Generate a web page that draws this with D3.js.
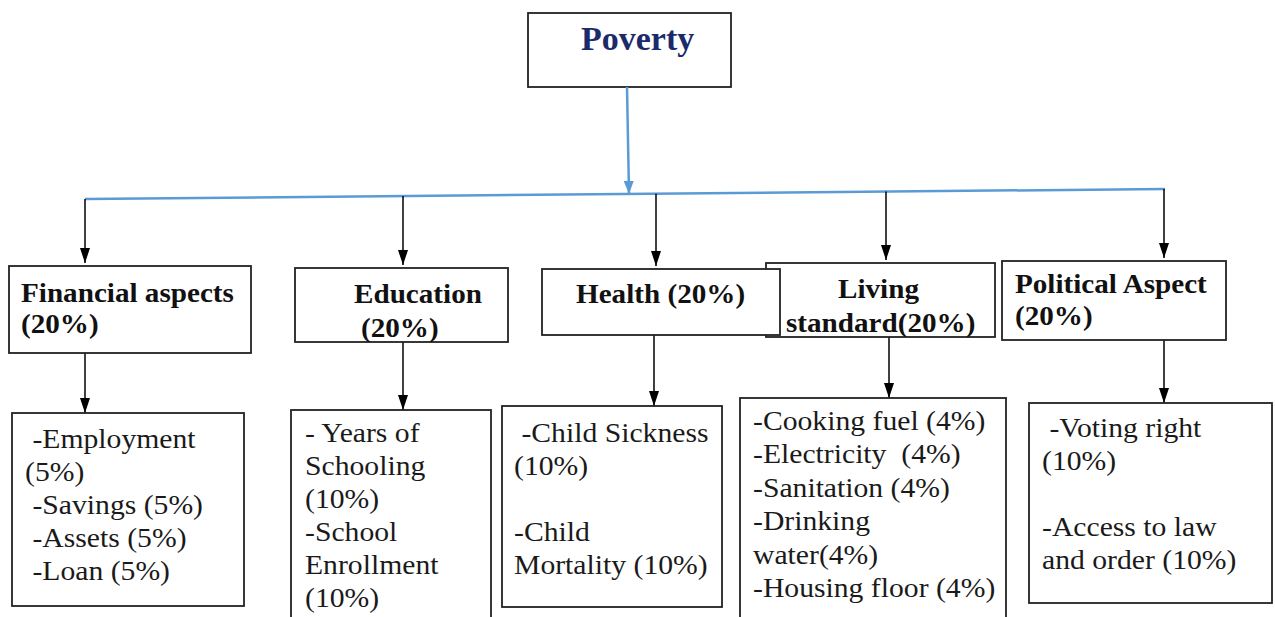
<!DOCTYPE html>
<html>
<head>
<meta charset="utf-8">
<script src="https://cdn.jsdelivr.net/npm/d3@7"></script>
<style>
  html, body { margin: 0; padding: 0; background: #fff; }
  text { white-space: pre; font-family: "Liberation Serif", "Times New Roman", serif; }
</style>
</head>
<body>
<svg id="chart" width="1275" height="617"></svg>
<script>
// ---- data ----
const rootLabel = "Poverty";
const categories = ["Financial aspects", "Education", "Health", "Living standard", "Political Aspect"];
const categoryWeights = [20, 20, 20, 20, 20];

// header text as it is broken into lines in the picture
const categoryLines = [
  ["Financial aspects", "(20%)"],
  ["Education", "(20%)"],
  ["Health (20%)"],
  ["Living", "standard(20%)"],
  ["Political Aspect", "(20%)"]
];

// indicators and their weights
const indicatorNames = [
  ["Employment", "Savings", "Assets", "Loan"],
  ["Years of Schooling", "School Enrollment"],
  ["Child Sickness", "Child Mortality"],
  ["Cooking fuel", "Electricity", "Sanitation", "Drinking water", "Housing floor"],
  ["Voting right", "Access to law and order"]
];
const indicatorWeights = [
  [5, 5, 5, 5],
  [10, 10],
  [10, 10],
  [4, 4, 4, 4, 4],
  [10, 10]
];

// indicator text, line by line ("" = empty line)
const indicatorLines = [
  [" -Employment", "(5%)", " -Savings (5%)", " -Assets (5%)", " -Loan (5%)"],
  ["- Years of", "Schooling", "(10%)", "-School", "Enrollment", "(10%)"],
  [" -Child Sickness", "(10%)", "", "-Child", "Mortality (10%)"],
  ["-Cooking fuel (4%)", "-Electricity  (4%)", "-Sanitation (4%)", "-Drinking", "water(4%)", "-Housing floor (4%)"],
  [" -Voting right", "(10%)", "", "-Access to law", "and order (10%)"]
];

// ---- layout (pixels) ----
const rootBox = { x: 528, y: 13, w: 203, h: 74 };
const busLeft = [85, 199], busRight = [1165, 189];
const branchX = [85, 403, 656, 886, 1164];
const childX = [85, 403, 654, 889, 1164];
const stretchX = 1.06; // the text in the picture is a little wide

const headBoxes = [
  { x: 9, y: 266, w: 242, h: 87, tx: [21, 21], ty: 302, step: 31 },
  { x: 295, y: 268, w: 213, h: 74, tx: [354, 361], ty: 303, step: 34 },
  { x: 542, y: 269, w: 238, h: 66, tx: [576], ty: 303, step: 31 },
  { x: 766, y: 263, w: 229, h: 74, tx: [838, 786], ty: 298, step: 34 },
  { x: 1002, y: 261, w: 224, h: 79, tx: [1015, 1015], ty: 293, step: 32 }
];
const leafBoxes = [
  { x: 12, y: 413, w: 232, h: 193, tx: 25, ty: 448, step: 33 },
  { x: 291, y: 410, w: 200, h: 230, tx: 305, ty: 442, step: 33 },
  { x: 502, y: 406, w: 220, h: 201, tx: 514, ty: 442, step: 33 },
  { x: 740, y: 398, w: 266, h: 240, tx: 753, ty: 430, step: 33.4 },
  { x: 1029, y: 403, w: 243, h: 200, tx: 1042, ty: 437, step: 33 }
];

const svg = d3.select("#chart");
const width = +svg.attr("width"), height = +svg.attr("height");
svg.append("rect").attr("width", width).attr("height", height).attr("fill", "#fff");

const defs = svg.append("defs");
function marker(id, color, w, l) {
  defs.append("marker")
    .attr("id", id)
    .attr("viewBox", `0 0 ${l} ${w}`)
    .attr("refX", l).attr("refY", w / 2)
    .attr("markerUnits", "userSpaceOnUse")
    .attr("markerWidth", l).attr("markerHeight", w)
    .attr("orient", "auto")
    .append("path")
    .attr("d", `M0,0L${l},${w / 2}L0,${w}Z`)
    .attr("fill", color);
}
marker("arrBlack", "#000", 10, 15);
marker("arrBlue", "#5b9bd5", 10, 13);

// y of the (slightly tilted) blue bus line at a given x
const busY = d3.scaleLinear().domain([busLeft[0], busRight[0]]).range([busLeft[1], busRight[1]]);

const place = (x, y) => `translate(${x},${y}) scale(${stretchX},1)`;

// root box
svg.append("rect")
  .attr("x", rootBox.x).attr("y", rootBox.y)
  .attr("width", rootBox.w).attr("height", rootBox.h)
  .attr("fill", "#fff").attr("stroke", "#222").attr("stroke-width", 1.8);
svg.append("text")
  .attr("transform", `translate(581,50) scale(1.03,1)`)
  .attr("font-size", 33).attr("font-weight", "bold")
  .attr("fill", "#1b2a6b")
  .text(rootLabel);

// blue connectors
svg.append("line")
  .attr("x1", busLeft[0]).attr("y1", busLeft[1])
  .attr("x2", busRight[0]).attr("y2", busRight[1])
  .attr("stroke", "#5b9bd5").attr("stroke-width", 2.5);
svg.append("line")
  .attr("x1", 627).attr("y1", rootBox.y + rootBox.h)
  .attr("x2", 629).attr("y2", busY(629))
  .attr("stroke", "#5b9bd5").attr("stroke-width", 2.5)
  .attr("marker-end", "url(#arrBlue)");

// arrows from bus to category boxes
svg.append("g").selectAll("line")
  .data(categories)
  .enter().append("line")
  .attr("x1", (d, i) => branchX[i]).attr("y1", (d, i) => busY(branchX[i]))
  .attr("x2", (d, i) => branchX[i]).attr("y2", (d, i) => headBoxes[i].y - 3)
  .attr("stroke", "#000").attr("stroke-width", 1.5)
  .attr("marker-end", "url(#arrBlack)");

// arrows from category boxes to indicator boxes
svg.append("g").selectAll("line")
  .data(categories)
  .enter().append("line")
  .attr("x1", (d, i) => childX[i]).attr("y1", (d, i) => headBoxes[i].y + headBoxes[i].h)
  .attr("x2", (d, i) => childX[i]).attr("y2", (d, i) => leafBoxes[i].y)
  .attr("stroke", "#000").attr("stroke-width", 1.5)
  .attr("marker-end", "url(#arrBlack)");

// category boxes; Living standard sits behind Health
const headOrder = [0, 1, 3, 2, 4];
headOrder.forEach(i => {
  const b = headBoxes[i];
  const g = svg.append("g");
  defs.append("clipPath").attr("id", "clipHead" + i)
    .append("rect").attr("x", b.x).attr("y", b.y).attr("width", b.w).attr("height", b.h);
  g.append("rect")
    .attr("x", b.x).attr("y", b.y).attr("width", b.w).attr("height", b.h)
    .attr("fill", "#fff").attr("stroke", "#222").attr("stroke-width", 1.8);
  g.append("g").attr("clip-path", `url(#clipHead${i})`)
    .selectAll("text")
    .data(categoryLines[i])
    .enter().append("text")
    .attr("transform", (d, j) => place(b.tx[j], b.ty + j * b.step))
    .attr("font-size", 27.5).attr("font-weight", "bold")
    .attr("fill", "#111")
    .text(d => d);
});

// indicator boxes
leafBoxes.forEach((b, i) => {
  const g = svg.append("g");
  g.append("rect")
    .attr("x", b.x).attr("y", b.y).attr("width", b.w).attr("height", b.h)
    .attr("fill", "#fff").attr("stroke", "#222").attr("stroke-width", 1.8);
  g.selectAll("text")
    .data(indicatorLines[i])
    .enter().append("text")
    .attr("transform", (d, j) => place(b.tx, b.ty + j * b.step))
    .attr("font-size", 28)
    .attr("fill", "#1a1a1a")
    .text(d => d);
});
</script>
</body>
</html>
